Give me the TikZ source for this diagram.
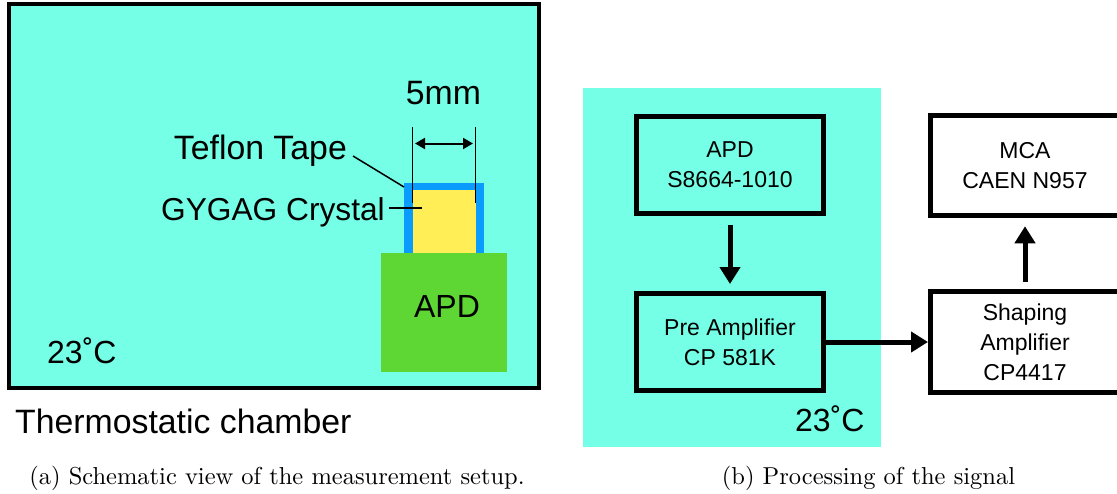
\documentclass[tikz,border=0pt]{standalone}
\usepackage{fontspec}
\setsansfont{Liberation Sans}
\usepackage{tikz}
\usetikzlibrary{positioning}
\usetikzlibrary{arrows.meta}
\definecolor{chamberfill}{HTML}{74FFE6}
\definecolor{tapeblue}{HTML}{0A9BFF}
\definecolor{crystalyellow}{HTML}{FFEE55}
\definecolor{apdgreen}{HTML}{5ED634}

\begin{document}
\begin{tikzpicture}[
        x=1pt,
        y=-1pt,
        box/.style={
            rectangle,
            draw,
            line width=5pt,
            minimum width=187pt,
            minimum height=97pt,
            align=center,
            font=\fontsize{23}{30}\sffamily
        },
        widebox/.style={
            box,
            minimum width=189pt,
            minimum height=100.5pt
        },
        patch/.style={
            rectangle,
            inner sep=0pt,
            outer sep=0pt
        },
        biglabel/.style={font=\fontsize{33.8}{36}\sffamily, inner sep=0pt},
        templabel/.style={font=\fontsize{32}{36}\sffamily, inner sep=0pt, anchor=west},
        caption/.style={font=\normalsize, scale=2.448, inner sep=0pt},
        arrow/.style={-{Triangle[length=17pt,width=20pt]}, line width=5pt},
        thinline/.style={line width=1.5pt},
        node distance=75pt
    ]

    \useasboundingbox (0,0) rectangle (1117,493);

    % left picture
    \node[patch, draw, line width=4pt, fill=chamberfill, minimum width=530pt, minimum height=384pt] (chamber) at (274,196) {};
    \node[patch, fill=apdgreen, minimum width=126pt, minimum height=119pt] (apdblock) at (444,312.5) {};
    \node[patch, fill=tapeblue, minimum width=80pt, minimum height=70pt, above=0pt of apdblock] (tape) {};
    \node[patch, fill=crystalyellow, minimum width=63pt, minimum height=63pt, above=0pt of apdblock] (crystal) {};

    \node[biglabel] (size) at (443.5,93) {5mm};
    \node[biglabel, anchor=east] (tapelabel) at (347,151) {Teflon Tape};
    \node[biglabel, anchor=east, font=\fontsize{31.7}{36}\sffamily] (crystallabel) at (385,212) {GYGAG Crystal};
    \node[biglabel, font=\fontsize{32}{36}\sffamily] (apdlabel) at (447,306) {APD};
    \node[templabel] (tempa) at (47,351) {23˚C};
    \node[biglabel, anchor=west] (chamberlabel) at (15,421) {Thermostatic chamber};

    \coordinate (dimltop) at (412.5,127);
    \coordinate (dimlbot) at (412.5,203);
    \coordinate (dimrtop) at (475.5,127);
    \coordinate (dimrbot) at (475.5,203);
    \coordinate (dimla) at (415,143.5);
    \coordinate (dimra) at (473,143.5);
    \coordinate (crystaltip) at (422,208);

    \draw[thinline] (dimltop) -- (dimlbot);
    \draw[thinline] (dimrtop) -- (dimrbot);
    \draw[{Triangle[length=10pt,width=11pt]}-{Triangle[length=10pt,width=11pt]}, line width=2pt] (dimla) -- (dimra);
    \draw[thinline] ([xshift=6pt,yshift=-5pt]tapelabel.east) -- ([yshift=-4pt]tape.north west);
    \draw[thinline] ([xshift=4pt,yshift=4pt]crystallabel.east) -- (crystaltip);

    % right picture
    \node[patch, fill=chamberfill, minimum width=298pt, minimum height=359pt] (room) at (732,267.5) {};
    \node[box, fill=chamberfill] (apd) at (730,165) {APD\\S8664-1010};
    \node[box, fill=chamberfill, below=of apd] (pre) {Pre Amplifier\\CP 581K};
    \node[widebox, right=102pt of pre] (shaper) {Shaping\\Amplifier\\CP4417};
    \node[widebox, above=71pt of shaper] (mca) {MCA\\CAEN N957};
    \node[templabel] (tempb) at (795,419) {23˚C};

    \draw[arrow, shorten <=9pt, shorten >=7pt] (apd) -- (pre);
    \draw[arrow] (pre) -- (shaper);
    \draw[arrow, shorten <=7pt, shorten >=8pt] (shaper) -- (mca);

    % captions
    \node[caption] (capa) at (277,478) {(a) Schematic view of the measurement setup.};
    \node[caption] (capb) at (868.5,478) {(b) Processing of the signal};

\end{tikzpicture}
\end{document}
